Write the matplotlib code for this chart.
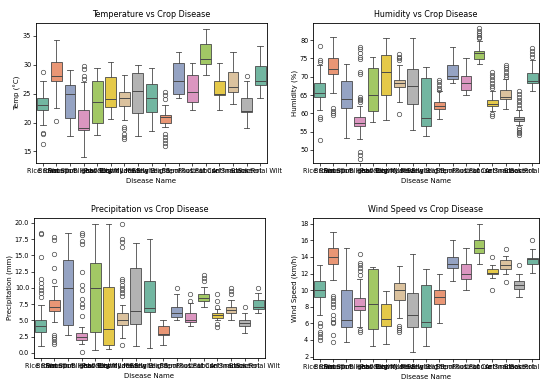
import matplotlib
matplotlib.use("Agg")
import matplotlib.pyplot as plt
import seaborn as sns

diseases = ["Rice Blast", "Brown Spot", "Sheath Blight", "Fusarium Head Blight",
            "Leaf Rust", "Powdery Mildew", "Downy Mildew", "Late Blight",
            "Early Blight", "Leaf Spot", "Stem Rust", "Root Rot", "Leaf Curl",
            "Loose Smut", "Anthracnose", "Black Rot", "Bacterial Wilt"]

# each series: (whislo, q1, med, q3, whishi)
temp_stats = [
    (19.6, 22.2, 23.0, 24.2, 27.2), (22.5, 27.1, 28.0, 30.5, 34.3),
    (17.6, 20.7, 24.9, 26.5, 29.1), (14.0, 18.7, 19.1, 22.2, 27.0),
    (17.9, 19.9, 23.6, 27.1, 29.4), (20.6, 22.6, 24.0, 27.8, 30.5),
    (20.5, 22.8, 24.3, 25.2, 28.2), (17.7, 21.6, 25.5, 28.6, 30.0),
    (18.6, 21.9, 24.2, 26.6, 29.5), (19.3, 20.0, 20.9, 21.3, 23.1),
    (24.2, 24.9, 27.2, 30.2, 32.2), (22.2, 23.6, 25.2, 28.2, 30.2),
    (28.2, 30.1, 31.0, 33.5, 36.1), (22.2, 24.7, 24.9, 27.2, 30.2),
    (23.2, 25.3, 26.2, 28.7, 32.2), (19.0, 21.9, 22.0, 24.2, 27.1),
    (24.2, 26.5, 27.1, 29.8, 33.2)]
temp_fliers = [[28.7, 18.2, 18.0, 16.3], [20.2], [], [29.7, 29.3, 28.0, 27.5],
               [], [], [19.3, 18.8, 18.0, 17.5, 17.1], [], [],
               [25.2, 24.8, 24.0, 18.0, 17.5, 17.0, 16.5, 16.0],
               [], [], [], [], [], [28.0], []]

hum_stats = [
    (61.0, 64.5, 65.6, 68.2, 73.3), (65.5, 70.7, 72.0, 75.0, 80.9),
    (53.2, 61.4, 63.8, 68.8, 73.4), (53.0, 56.5, 57.3, 58.9, 62.0),
    (57.5, 60.5, 65.0, 72.5, 75.5), (58.2, 65.0, 71.2, 75.9, 80.6),
    (63.2, 67.1, 68.2, 69.1, 73.2), (55.3, 62.5, 67.5, 72.1, 80.7),
    (53.9, 56.5, 58.6, 69.7, 72.7), (58.4, 61.1, 62.0, 63.2, 66.2),
    (68.2, 69.5, 70.1, 73.2, 78.0), (65.0, 66.4, 68.4, 70.2, 75.0),
    (73.5, 74.8, 76.4, 77.1, 79.8), (60.5, 62.0, 62.5, 63.6, 66.2),
    (61.1, 63.8, 64.5, 66.4, 69.3), (56.8, 58.0, 58.5, 59.1, 60.9),
    (66.2, 68.4, 68.8, 71.1, 74.7)]
hum_fliers = [[78.5, 74.5, 74.0, 59.0, 58.5, 52.7], [61.5, 60.5, 60.0, 59.5], [],
              [64.5, 64.0, 63.5, 63.0, 70.8, 71.3, 74.8, 75.5, 76.5, 77.5, 78.2,
               49.5, 48.5, 47.5],
              [], [], [74.5, 75.0, 75.5, 76.2, 59.8], [], [],
              [66.5, 67.0, 67.7, 68.5, 69.2], [], [],
              [80.5, 81.0, 81.5, 82.0, 82.5, 83.2],
              [66.8, 67.5, 68.2, 69.0, 69.8, 70.5, 71.2, 59.8, 59.2],
              [69.8, 70.5, 71.3, 72.0, 72.7, 73.3],
              [61.5, 62.2, 63.0, 63.7, 64.5, 65.3, 66.0, 56.0, 55.5, 55.0, 54.5, 54.0],
              [75.5, 76.2, 77.0, 77.8]]

prec_stats = [
    (1.1, 3.28, 4.15, 5.07, 7.4), (4.8, 6.5, 7.0, 8.14, 10.3),
    (2.67, 4.35, 9.93, 14.3, 18.4), (1.4, 1.9, 2.4, 3.0, 4.05),
    (0.47, 3.28, 9.93, 13.76, 19.9), (0.57, 1.18, 3.64, 10.1, 19.9),
    (2.26, 4.3, 5.07, 6.1, 7.4), (0.98, 4.45, 6.4, 13.1, 16.9),
    (0.7, 6.3, 6.96, 11.1, 17.5), (1.2, 2.67, 2.9, 4.15, 5.0),
    (5.07, 5.48, 6.1, 7.0, 9.06), (4.15, 4.82, 5.0, 6.1, 7.6),
    (7.0, 8.0, 8.5, 9.06, 10.1), (5.07, 5.4, 5.8, 6.2, 6.8),
    (5.07, 6.1, 6.6, 7.0, 8.1), (3.0, 4.15, 4.6, 5.07, 6.1),
    (6.1, 6.76, 7.1, 8.14, 9.16)]
prec_fliers = [[18.5, 18.3, 14.8, 11.3, 10.7, 10.1, 9.7, 9.2, 8.6],
               [17.9, 17.4, 15.2, 13.0, 11.0, 2.7, 2.4, 2.1, 1.7, 1.4], [],
               [18.4, 18.1, 17.2, 16.7, 12.4, 10.5, 9.7, 8.3, 7.5, 7.0, 5.7, 0.1],
               [], [],
               [19.8, 17.5, 17.0, 16.3, 11.4, 11.0, 10.5, 10.0, 9.6, 9.2, 8.8, 1.2],
               [], [], [], [10.0], [9.0, 8.0], [12.0, 11.5, 11.0],
               [9.0, 8.0, 7.0, 4.5, 4.0], [10.0, 9.5, 9.0], [7.0], [10.0]]

wind_stats = [
    (7.0, 9.2, 10.0, 11.1, 13.0), (11.2, 13.1, 14.0, 15.1, 17.0),
    (3.8, 5.54, 6.43, 10.0, 15.1), (5.6, 7.56, 8.04, 9.05, 11.3),
    (3.3, 5.3, 8.3, 12.6, 12.75), (3.5, 5.7, 6.55, 8.36, 9.9),
    (6.6, 8.85, 10.05, 10.9, 12.9), (2.5, 5.54, 6.95, 9.65, 14.3),
    (3.3, 5.54, 6.15, 10.6, 12.55), (6.0, 8.3, 9.17, 10.05, 12.0),
    (11.1, 12.7, 13.1, 14.0, 16.0), (10.05, 11.3, 12.0, 13.1, 15.1),
    (13.1, 14.5, 15.1, 16.0, 18.0), (11.5, 11.9, 12.1, 12.5, 13.0),
    (12.0, 12.6, 13.0, 13.6, 14.1), (9.2, 10.2, 10.65, 11.1, 11.9),
    (12.1, 13.2, 13.7, 13.9, 15.0)]
wind_fliers = [[6.0, 5.7, 5.0, 4.7, 4.3, 4.0],
               [9.3, 9.0, 8.7, 8.3, 8.0, 7.0, 6.5, 6.2, 6.0, 4.6, 3.8], [],
               [14.3, 13.3, 13.0, 12.7, 12.3, 11.8, 5.2, 5.0], [], [],
               [5.7, 5.4, 5.2, 5.0], [], [], [], [], [], [],
               [14.0, 10.0], [15.0, 11.0], [13.0], [16.0]]

panels = [
    ("Temperature vs Crop Disease", "Temp (°C)", temp_stats, temp_fliers, (13.0, 37.2), [15, 20, 25, 30, 35], None),
    ("Humidity vs Crop Disease", "Humidity (%)", hum_stats, hum_fliers, (46.4, 84.7), [50, 55, 60, 65, 70, 75, 80], None),
    ("Precipitation vs Crop Disease", "Precipitation (mm)", prec_stats, prec_fliers, (-0.8, 20.77), [0, 2.5, 5, 7.5, 10, 12.5, 15, 17.5, 20], "%.1f"),
    ("Wind Speed vs Crop Disease", "Wind Speed (km/h)", wind_stats, wind_fliers, (1.7, 18.7), [2, 4, 6, 8, 10, 12, 14, 16, 18], None),
]

W, H = 541, 379
rects = [(36, 23, 231, 140), (313, 23, 226, 140), (34, 218, 231, 140), (313, 218, 226, 141)]

colors = sns.color_palette("Set2", 8, desat=0.75)
line_c = "#4a4a4a"

fig = plt.figure(figsize=(W / 100, H / 100), dpi=100)
for (title, ylabel, stats, fliers, ylim, yticks, fmt), (x, y, w, h) in zip(panels, rects):
    ax = fig.add_axes([x / W, (H - y - h) / H, w / W, h / H])
    bstats = []
    for name, s, f in zip(diseases, stats, fliers):
        bstats.append(dict(label=name, whislo=s[0], q1=s[1], med=s[2], q3=s[3], whishi=s[4], fliers=f))
    bp = ax.bxp(bstats, positions=range(len(diseases)), widths=0.8, patch_artist=True,
                boxprops=dict(edgecolor=line_c, linewidth=0.6),
                medianprops=dict(color=line_c, linewidth=0.7),
                whiskerprops=dict(color=line_c, linewidth=0.6),
                capprops=dict(color=line_c, linewidth=0.6),
                flierprops=dict(marker="o", markersize=3.2, markerfacecolor="none",
                                markeredgecolor=line_c, markeredgewidth=0.5))
    for i, patch in enumerate(bp["boxes"]):
        patch.set_facecolor(colors[i % 8])
    ax.set_xlim(-0.5, len(diseases) - 0.5)
    ax.set_ylim(*ylim)
    ax.set_yticks(yticks)
    if fmt:
        ax.set_yticklabels([fmt % v for v in yticks])
    ax.set_xticks(range(len(diseases)))
    ax.set_xticklabels(diseases)
    ax.tick_params(labelsize=4.7, length=2, width=0.5, pad=1.5)
    for sp in ax.spines.values():
        sp.set_linewidth(0.6)
    ax.set_title(title, fontsize=5.8, pad=4)
    ax.set_xlabel("Disease Name", fontsize=5, labelpad=3)
    ax.set_ylabel(ylabel, fontsize=5, labelpad=1)

fig.savefig("out.png", dpi=100)
